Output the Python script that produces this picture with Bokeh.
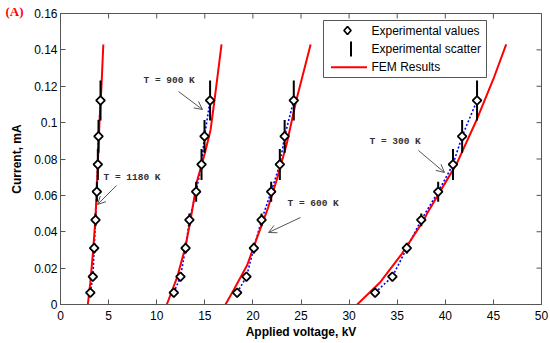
import math
from bokeh.plotting import figure
from bokeh.models import (ColumnDataSource, Range1d, FixedTicker, Label,
                          Arrow, OpenHead, BoxAnnotation, PolyAnnotation)
from bokeh.embed import file_html
from bokeh.resources import INLINE

# ---------------- data ----------------
currents = [0.0065, 0.0153, 0.031, 0.0465, 0.062, 0.077, 0.0925, 0.1122]
scatter_err = [0.0015, 0.002, 0.003, 0.0035, 0.0055, 0.0085, 0.009, 0.011]

v_1180 = [3.1, 3.36, 3.5, 3.64, 3.78, 3.88, 3.95, 4.16]
v_900 = [11.78, 12.47, 13.0, 13.4, 14.1, 14.66, 14.97, 15.55]
v_600 = [18.36, 19.33, 20.1, 20.9, 21.9, 22.8, 23.3, 24.25]
v_300 = [32.7, 34.5, 36.0, 37.5, 39.26, 40.8, 41.75, 43.3]

fem_1180_v = [2.84, 3.1, 3.4, 3.6, 3.75, 3.9, 4.05, 4.26, 4.45]
fem_1180_i = [0.0, 0.012, 0.03, 0.045, 0.06, 0.08, 0.1, 0.12, 0.143]
fem_900_v = [11.05, 12.13, 13.0, 13.5, 14.2, 15.0, 15.6, 16.0, 16.74]
fem_900_i = [0.0, 0.015, 0.032, 0.046, 0.068, 0.083, 0.096, 0.112, 0.143]
fem_600_v = [17.15, 18.0, 19.4, 20.45, 21.5, 22.45, 23.5, 24.5, 26.0]
fem_600_i = [0.0, 0.008, 0.0216, 0.037, 0.052, 0.068, 0.088, 0.112, 0.143]
fem_300_v = [30.84, 33.26, 35.5, 37.77, 38.1, 41.2, 43.3, 45.0, 46.33]
fem_300_i = [0.0, 0.0124, 0.028, 0.0464, 0.05, 0.0776, 0.102, 0.124, 0.143]

x_ticks = [0, 5, 10, 15, 20, 25, 30, 35, 40, 45, 50]
x_tick_labels = ["0", "5", "10", "15", "20", "25", "30", "35", "40", "45", "50"]
y_ticks = [0, 0.02, 0.04, 0.06, 0.08, 0.1, 0.12, 0.14, 0.16]
y_tick_labels = ["0", "0.02", "0.04", "0.06", "0.08", "0.1", "0.12", "0.14", "0.16"]

legend_labels = ["Experimental values", "Experimental scatter", "FEM Results"]
temp_labels = ["T = 1180 K", "T = 900 K", "T = 600 K", "T = 300 K"]

X0, X1, Y0, Y1 = 0, 50, 0, 0.16

# ---------------- figure ----------------
p = figure(width=550, height=343, output_backend="svg", toolbar_location=None,
           x_range=Range1d(X0, X1), y_range=Range1d(Y0, Y1),
           min_border_left=60, min_border_right=9, min_border_top=13, min_border_bottom=39,
           background_fill_color="white", border_fill_color="white")
p.grid.visible = False
p.outline_line_color = "#555555"
p.outline_line_width = 1

# panel tag "(A)" as a left-aligned title pulled down beside the top of the frame
p.title.text = "(A)"
p.title.align = "left"
p.title.offset = -55
p.title.standoff = -11
p.title.text_font = "Liberation Serif"
p.title.text_font_style = "bold"
p.title.text_font_size = "13px"
p.title.text_color = "red"

p.xaxis.ticker = FixedTicker(ticks=x_ticks, minor_ticks=[])
p.yaxis.ticker = FixedTicker(ticks=y_ticks, minor_ticks=[])
p.xaxis.major_label_overrides = dict(zip(x_ticks, x_tick_labels))
p.yaxis.major_label_overrides = dict(zip(y_ticks, y_tick_labels))

for ax in p.axis:
    ax.major_tick_in = 5
    ax.major_tick_out = 0
    ax.minor_tick_line_color = None
    ax.axis_line_color = "#555555"
    ax.major_tick_line_color = "#555555"
    ax.major_label_text_font = "Liberation Sans"
    ax.major_label_text_font_size = "12px"
    ax.major_label_text_color = "black"
    ax.axis_label_text_font = "Liberation Sans"
    ax.axis_label_text_font_size = "12px"
    ax.axis_label_text_font_style = "bold"
    ax.axis_label_text_color = "black"

xb = p.xaxis[0]
xb.axis_label = "Applied voltage, kV"
xb.major_label_standoff = 6
xb.axis_label_standoff = 2
yl = p.yaxis[0]
yl.axis_label = "Current, mA"
yl.major_label_standoff = 3
yl.axis_label_standoff = 7

# top / right inward tick marks (MATLAB style box), from the tick lists
tick_dx = 5 / 481 * (X1 - X0)
tick_dy = 5 / 291 * (Y1 - Y0)
p.segment(x0=x_ticks, y0=[Y1] * len(x_ticks), x1=x_ticks, y1=[Y1 - tick_dy] * len(x_ticks),
          line_color="#555555", line_width=1)
p.segment(x0=[X1] * len(y_ticks), y0=y_ticks, x1=[X1 - tick_dx] * len(y_ticks), y1=y_ticks,
          line_color="#555555", line_width=1)

# ---------------- series ----------------
fem = [(fem_1180_v, fem_1180_i), (fem_900_v, fem_900_i), (fem_600_v, fem_600_i), (fem_300_v, fem_300_i)]
exps = [v_1180, v_900, v_600, v_300]

for vs in exps:
    p.line(vs, currents, line_color="blue", line_width=1.6, line_dash="2 2")
for fv, fi in fem:
    p.line(fv, fi, line_color="red", line_width=2)
for vs in exps:
    src = ColumnDataSource(dict(x=vs, lo=[c - e for c, e in zip(currents, scatter_err)],
                                hi=[c + e for c, e in zip(currents, scatter_err)]))
    p.segment(x0="x", y0="lo", x1="x", y1="hi", source=src, line_color="black", line_width=2)
for vs in exps:
    p.scatter(vs, currents, marker="square", angle=math.pi / 4, size=6.2, line_color="black",
              line_width=1.8, fill_color="white")

# ---------------- layout helpers (pixel -> data) ----------------
FL, FR, FT, FB = 60, 541, 13, 304
def dx(px):
    return X0 + (px - FL) / (FR - FL) * (X1 - X0)
def dy(py):
    return Y0 + (FB - py) / (FB - FT) * (Y1 - Y0)

# temperature annotations: (text x, text y, arrow start, arrow end) in px
ann = [(103, 177, (116, 185), (97, 204)),
       (143, 80, (178, 91), (202, 109)),
       (287, 203, (300, 217), (268, 232)),
       (369, 141, (418, 150), (444, 172))]
for t, (tx, ty, a0, a1) in zip(temp_labels, ann):
    p.add_layout(Label(x=dx(tx), y=dy(ty), text=t, text_font="Liberation Mono",
                       text_font_style="bold", text_font_size="9.5px", text_color="#333333",
                       text_baseline="middle", text_align="left"))
    p.add_layout(Arrow(x_start=dx(a0[0]), y_start=dy(a0[1]), x_end=dx(a1[0]), y_end=dy(a1[1]),
                       line_color="#555555", line_width=1,
                       end=OpenHead(size=8, line_color="#555555", line_width=1)))

# legend (manual)
p.add_layout(BoxAnnotation(left=dx(323), right=dx(486), top=dy(20), bottom=dy(77),
                           fill_color="white", fill_alpha=1, line_color="#555555",
                           line_width=1, line_alpha=1))
rows = [30, 48.3, 66.7]
for lab, ry in zip(legend_labels, rows):
    p.add_layout(Label(x=dx(371), y=dy(ry), text=lab, text_font="Liberation Sans",
                       text_font_size="12px", text_color="black", text_baseline="middle"))
p.add_layout(PolyAnnotation(xs=[dx(343.5), dx(347), dx(350.5), dx(347)],
                            ys=[dy(30), dy(26), dy(30), dy(34)],
                            fill_color="white", fill_alpha=1, line_color="black",
                            line_alpha=1, line_width=1.8))
p.add_layout(Arrow(x_start=dx(350.5), y_start=dy(41), x_end=dx(350.5), y_end=dy(56),
                   line_color="black", line_width=2, end=None))
p.add_layout(Arrow(x_start=dx(330.5), y_start=dy(66.7), x_end=dx(366.5), y_end=dy(66.7),
                   line_color="red", line_width=2, end=None))

open("out.html", "w").write(file_html(p, INLINE))
